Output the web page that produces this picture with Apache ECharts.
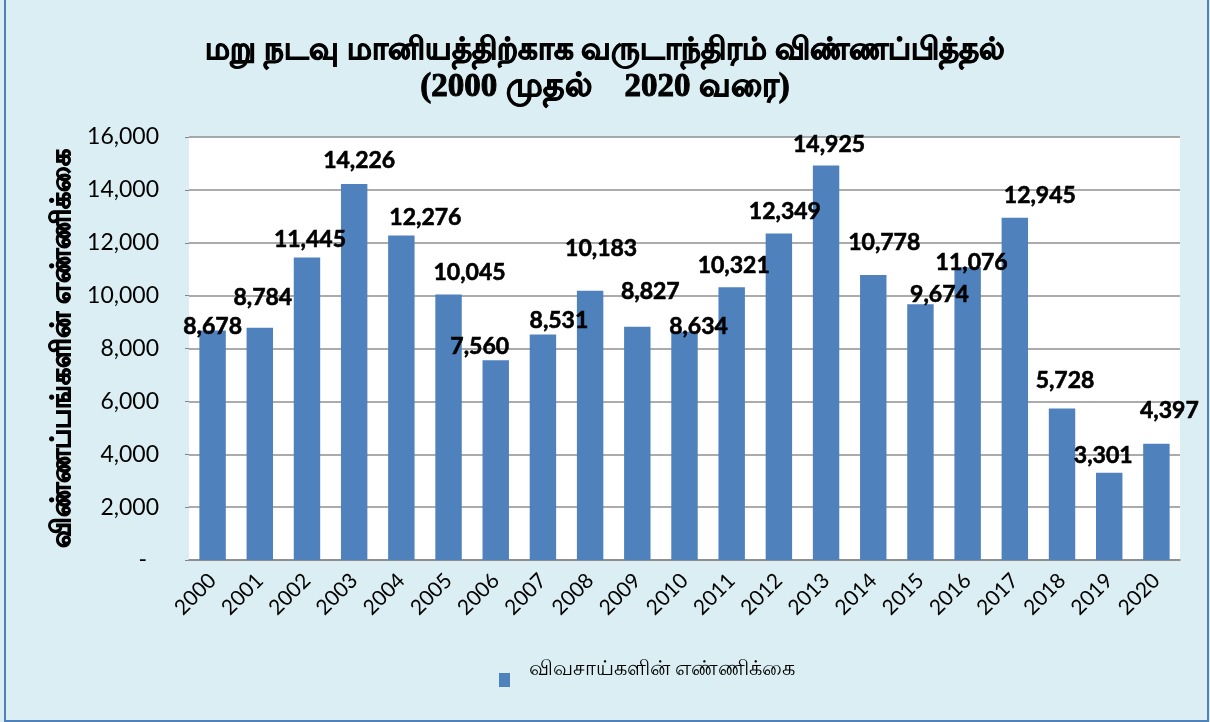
<!DOCTYPE html>
<html>
<head>
<meta charset="utf-8">
<script src="https://cdn.jsdelivr.net/npm/echarts@6/dist/echarts.min.js"></script>
<style>
  html, body { margin: 0; padding: 0; background: #DAEEF3; }
  #chart { width: 1210px; height: 722px; }
</style>
</head>
<body>
<div id="chart"></div>
<script>
// ---- data ----
const years = ['2000','2001','2002','2003','2004','2005','2006','2007','2008','2009','2010',
               '2011','2012','2013','2014','2015','2016','2017','2018','2019','2020'];
const applications = [8678, 8784, 11445, 14226, 12276, 10045, 7560, 8531, 10183, 8827, 8634,
                      10321, 12349, 14925, 10778, 9674, 11076, 12945, 5728, 3301, 4397];
const seriesName = 'விவசாய்களின் எண்ணிக்கை';
const titleLine1 = 'மறு நடவு மானியத்திற்காக வருடாந்திரம் விண்ணப்பித்தல்';
const titleLine2 = '(2000 முதல்    2020 வரை)';
const yAxisTitle = 'விண்ணப்பங்களின் எண்ணிக்கை';
const yTicks = { min: 0, max: 16000, interval: 2000 };

// ---- label placement nudges (style only, pixels) ----
const labelNudge = [[0,13],[3,-14],[3,-1],[5,-7],[24,-1],[21,-5],[-16,3],[16,3],[11,-26],[13,-19],[14,11],
                    [2,-5],[6,-5],[3,-4],[11,-16],[19,7],[4,12],[25,-6],[3,-11],[-6,-1],[13,-17]];

const chart = echarts.init(document.getElementById('chart'));
const fmt = v => v.toLocaleString('en-US');

const titleFont = {
  fontFamily: '"Liberation Serif", serif',
  fontWeight: 'bold',
  color: '#000',
  textBorderColor: '#000',
  textBorderWidth: 1
};

chart.setOption({
  backgroundColor: '#DAEEF3',
  animation: false,
  graphic: [{
    type: 'rect',
    shape: { x: 5, y: -5, width: 1203, height: 726 },
    style: { fill: 'none', stroke: '#4F81BD', lineWidth: 2 },
    silent: true
  }],
  title: {
    text: '{a|' + titleLine1 + '}\n{b|' + titleLine2 + '}',
    left: 'center',
    top: 27,
    textStyle: {
      rich: {
        a: Object.assign({ fontSize: 31, lineHeight: 37 }, titleFont),
        b: Object.assign({ fontSize: 33, lineHeight: 37 }, titleFont)
      }
    }
  },
  legend: {
    data: [seriesName],
    left: 499,
    top: 656,
    padding: 0,
    icon: 'rect',
    itemWidth: 11,
    itemHeight: 14,
    formatter: name => name + '\n ',
    textStyle: {
      fontFamily: 'Lato, "Noto Sans", sans-serif',
      fontSize: 21,
      lineHeight: 24,
      color: '#000',
      padding: [0, 0, 0, 14]
    }
  },
  grid: {
    left: 189, right: 30, top: 137, bottom: 162,
    show: true, backgroundColor: '#FFFFFF', borderWidth: 0
  },
  xAxis: {
    type: 'category',
    data: years,
    axisLine: { show: true, lineStyle: { color: '#868686', width: 1.5 } },
    axisTick: { show: false },
    axisLabel: {
      rotate: 45,
      margin: 17,
      fontFamily: 'Lato, sans-serif',
      fontSize: 21,
      color: '#000'
    }
  },
  yAxis: {
    type: 'value',
    min: yTicks.min, max: yTicks.max, interval: yTicks.interval,
    name: yAxisTitle,
    nameLocation: 'middle',
    nameRotate: 90,
    nameGap: 112,
    nameTextStyle: {
      fontFamily: '"Liberation Sans", sans-serif',
      fontWeight: 'bold',
      fontSize: 27,
      color: '#000',
      textBorderColor: '#000',
      textBorderWidth: 1
    },
    axisLine: { show: false },
    axisTick: { show: true, length: 4, lineStyle: { color: '#868686' } },
    splitLine: { show: true, lineStyle: { color: '#8f8f8f', width: 1.5 } },
    axisLabel: {
      margin: 30,
      fontFamily: 'Lato, sans-serif',
      fontSize: 23,
      color: '#000',
      formatter: v => v === 0 ? '{d|-}' : fmt(v),
      rich: { d: { fontFamily: 'Lato, sans-serif', fontSize: 23, color: '#000', padding: [0, 12, 0, 0] } }
    }
  },
  series: [{
    name: seriesName,
    type: 'bar',
    barWidth: '56%',
    itemStyle: { color: '#4F81BD' },
    data: applications.map((v, i) => ({
      value: v,
      label: { offset: labelNudge[i] }
    })),
    label: {
      show: true,
      position: 'top',
      distance: 5,
      fontFamily: 'Lato, sans-serif',
      fontWeight: 'bold',
      fontSize: 23,
      color: '#000',
      textBorderColor: '#000',
      textBorderWidth: 0.6,
      formatter: p => fmt(p.value)
    }
  }]
});
</script>
</body>
</html>
